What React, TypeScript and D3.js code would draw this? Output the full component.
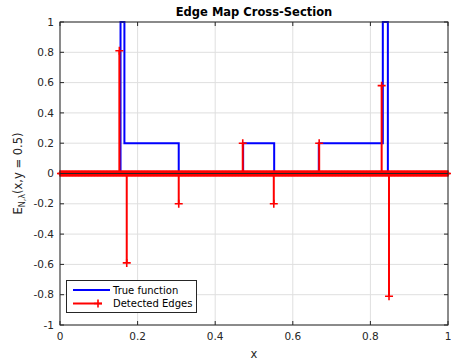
import * as d3 from "d3";

// ── Data ─────────────────────────────────────────────────────────────────────

// true piecewise-constant function (step corners)
const TRUE_X = [0, 0.156, 0.156, 0.166, 0.166, 0.306, 0.306, 0.472, 0.472, 0.552, 0.552, 0.667, 0.667, 0.832, 0.832, 0.845, 0.845, 1];
const TRUE_Y = [0, 0, 1, 1, 0.2, 0.2, 0, 0, 0.2, 0.2, 0, 0, 0.2, 0.2, 1, 1, 0, 0];

// detected edges (non-zero stems)
const EDGE_X = [0.153, 0.172, 0.306, 0.471, 0.551, 0.668, 0.829, 0.848];
const EDGE_V = [0.81, -0.59, -0.2, 0.2, -0.2, 0.2, 0.58, -0.81];

// sample points of the edge map where the value is zero
const SAMPLE_COUNT = 513;

const X_TICKS = [0, 0.2, 0.4, 0.6, 0.8, 1];
const Y_TICKS = [-1, -0.8, -0.6, -0.4, -0.2, 0, 0.2, 0.4, 0.6, 0.8, 1];

// ── Style ────────────────────────────────────────────────────────────────────

const W = 451, H = 364;
const m = { top: 22, right: 3, bottom: 39, left: 60 };
const AX = "#262626";
const GRID = "#dfdfdf";
const BLUE = "#0000ff";
const RED = "#ff0000";
const FONT = "'DejaVu Sans', sans-serif";

function Plus({ x, y, s = 4 }: { x: number; y: number; s?: number }) {
  return (
    <path d={`M${x - s},${y}H${x + s}M${x},${y - s}V${y + s}`} stroke={RED} strokeWidth={1.6} fill="none" />
  );
}

export default function App() {
  const x0 = m.left, x1 = W - m.right, y0 = m.top, y1 = H - m.bottom;
  const x = d3.scaleLinear().domain([0, 1]).range([x0, x1]);
  const y = d3.scaleLinear().domain([-1, 1]).range([y1, y0]);

  const trueLine = d3.line<number>()
    .x((_, i) => x(TRUE_X[i]))
    .y(d => y(d))(TRUE_Y)!;

  const samples = d3.range(SAMPLE_COUNT).map(i => i / (SAMPLE_COUNT - 1));
  const fmt = (v: number) => String(v);

  return (
    <svg width={W} height={H} style={{ position: "absolute", left: 0, top: 0, background: "#fff" }} fontFamily={FONT}>
      <rect x={x0} y={y0} width={x1 - x0} height={y1 - y0} fill="#fff" />

      {/* grid */}
      {X_TICKS.map(t => (
        <line key={"gx" + t} x1={x(t)} x2={x(t)} y1={y0} y2={y1} stroke={GRID} strokeWidth={1} />
      ))}
      {Y_TICKS.map(t => (
        <line key={"gy" + t} x1={x0} x2={x1} y1={y(t)} y2={y(t)} stroke={GRID} strokeWidth={1} />
      ))}

      {/* true function */}
      <path d={trueLine} fill="none" stroke={BLUE} strokeWidth={2} />

      {/* detected edges: zero samples */}
      <line x1={x(0)} x2={x(1)} y1={y(0)} y2={y(0)} stroke={RED} strokeWidth={2} />
      {samples.map((s, i) => (
        <Plus key={"s" + i} x={x(s)} y={y(0)} s={3} />
      ))}

      {/* detected edges: non-zero stems */}
      {EDGE_X.map((e, i) => (
        <g key={"e" + i}>
          <line x1={x(e)} x2={x(e)} y1={y(0)} y2={y(EDGE_V[i])} stroke={RED} strokeWidth={2} />
          <Plus x={x(e)} y={y(EDGE_V[i])} />
        </g>
      ))}

      {/* baseline */}
      <line x1={x0} x2={x1} y1={y(0)} y2={y(0)} stroke={AX} strokeWidth={1} />

      {/* axes box */}
      <rect x={x0} y={y0} width={x1 - x0} height={y1 - y0} fill="none" stroke={AX} strokeWidth={1} />

      {/* ticks (inside, all four sides) */}
      {X_TICKS.map(t => (
        <g key={"tx" + t}>
          <line x1={x(t)} x2={x(t)} y1={y1} y2={y1 - 4} stroke={AX} />
          <line x1={x(t)} x2={x(t)} y1={y0} y2={y0 + 4} stroke={AX} />
          <text x={x(t)} y={y1 + 15} textAnchor="middle" fontSize={10.5} fill={AX}>{fmt(t)}</text>
        </g>
      ))}
      {Y_TICKS.map(t => (
        <g key={"ty" + t}>
          <line x1={x0} x2={x0 + 4} y1={y(t)} y2={y(t)} stroke={AX} />
          <line x1={x1} x2={x1 - 4} y1={y(t)} y2={y(t)} stroke={AX} />
          <text x={x0 - 6} y={y(t)} dy="0.35em" textAnchor="end" fontSize={10.5} fill={AX}>{fmt(t)}</text>
        </g>
      ))}

      {/* labels */}
      <text x={(x0 + x1) / 2} y={16} textAnchor="middle" fontSize={11.5} fontWeight="bold" fill="#000">Edge Map Cross-Section</text>
      <text x={(x0 + x1) / 2} y={H - 6} textAnchor="middle" fontSize={11.5} fill={AX}>x</text>
      <text transform={`translate(22,${(y0 + y1) / 2}) rotate(-90)`} textAnchor="middle" fontSize={11.5} fill={AX}>
        E<tspan fontSize={8} dy={3}>N,λ</tspan><tspan dy={-3}>(x,y = 0.5)</tspan>
      </text>

      {/* legend */}
      <g>
        <rect x={66.5} y={280.5} width={130} height={32} fill="#fff" stroke={AX} strokeWidth={1} />
        <line x1={73} x2={110} y1={290} y2={290} stroke={BLUE} strokeWidth={2} />
        <text x={113} y={290} dy="0.35em" fontSize={10} fill="#000">True function</text>
        <line x1={73} x2={102} y1={303.5} y2={303.5} stroke={RED} strokeWidth={2} />
        <Plus x={98} y={303.5} />
        <text x={113} y={303.5} dy="0.35em" fontSize={10} fill="#000">Detected Edges</text>
      </g>
    </svg>
  );
}
